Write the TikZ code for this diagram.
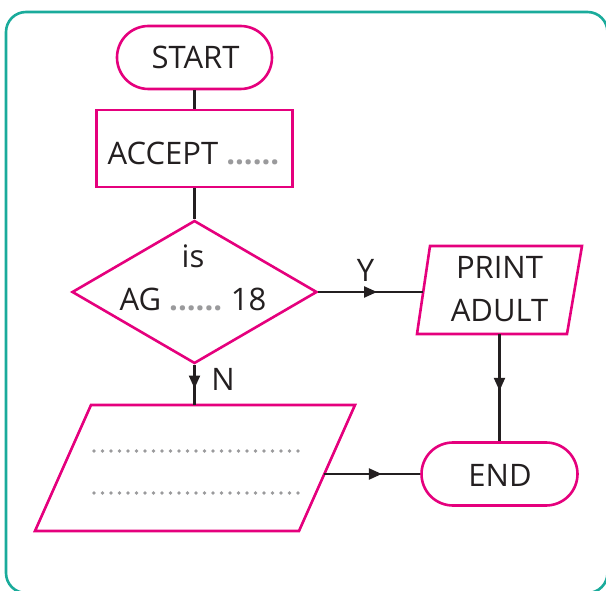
\documentclass[tikz,border=0pt]{standalone}
\usepackage{fontspec}
\setmainfont{Open Sans}
\usetikzlibrary{shapes.geometric,shapes.misc,arrows.meta,decorations.markings}
\definecolor{pinkc}{HTML}{E5007D}
\definecolor{tealc}{HTML}{1AAB9B}
\definecolor{textc}{HTML}{231F20}
\definecolor{dotc}{HTML}{9A9A9C}
\newcommand{\gdots}{{\color{dotc}\bfseries ......}}
\tikzset{
  shapebox/.style={draw=pinkc, line width=2.6pt, fill=white, inner sep=0pt},
  shapeline/.style={draw=pinkc, line width=2.6pt, fill=white, line join=miter},
  lbl/.style={anchor=base, inner sep=0pt, text=textc, font=\fontsize{31}{41}\selectfont},
  conn/.style={draw=textc, line width=2.2pt},
  midarrow/.style={conn, postaction={decorate}, decoration={markings, mark=at position #1 with {\arrow[textc]{Triangle[length=13pt,width=11pt]}}}},
  dotfill/.style={fill=dotc}
}
\begin{document}
\begin{tikzpicture}[x=1pt,y=-1pt]
\useasboundingbox (0,0) rectangle (606,591);
\draw[tealc, line width=2.6pt, rounded corners=20pt] (6,12) rectangle (607.5,593);

% shapes
\node[shapebox, rounded rectangle, minimum width=155pt, minimum height=63pt] (start) at (194.5,57.5) {};
\node[shapebox, rectangle, minimum width=196pt, minimum height=77pt] (accept) at (194.5,148.5) {};
\node[shapebox, diamond, minimum width=245pt, minimum height=143pt] (dec) at (194.5,292) {};
\node[shapebox, rounded rectangle, minimum width=156pt, minimum height=63pt] (end) at (499.5,474) {};

% parallelograms
\coordinate (ptl) at (430,246);
\coordinate (ptr) at (582,246);
\coordinate (pbr) at (567,334);
\coordinate (pbl) at (417,334);
\draw[shapeline] (ptl) -- (ptr) -- (pbr) -- (pbl) -- cycle;
\coordinate (itl) at (91,405);
\coordinate (itr) at (355,405);
\coordinate (ibr) at (299,531);
\coordinate (ibl) at (35,531);
\draw[shapeline] (itl) -- (itr) -- (ibr) -- (ibl) -- cycle;
\coordinate (printin) at (423.2,292);
\coordinate (printout) at (499.5,334);
\coordinate (ioin) at (194.5,405);
\coordinate (ioout) at (324.3,474);

% texts
\node[lbl] (tstart) at (195.5,69) {START};
\node[lbl] (taccept) at (193.5,165) {ACCEPT \gdots};
\node[lbl] (tis) at (193,268) {is};
\node[lbl] (tag) at (193,310) {AG \gdots\hspace{-2pt} 18};
\node[lbl] (tprint) at (499.5,279) {PRINT};
\node[lbl] (tadult) at (499.5,322) {ADULT};
\node[lbl] (tend) at (500,486) {END};
\node[lbl] (ty) at (365.5,282) {Y};
\node[lbl] (tn) at (223,390) {N};

% dotted placeholder lines
\foreach \i in {0,...,24} {
  \fill[dotfill] (94+8.5*\i,451) circle (1.9pt);
  \fill[dotfill] (94+8.5*\i,493) circle (1.9pt);
}

% connectors
\draw[conn] (start.south) -- (accept.north);
\draw[conn] (accept.south) -- (dec.north);
\draw[midarrow=0.56] (dec.east) -- (printin);
\draw[midarrow=0.59] (dec.south) -- (ioin);
\draw[midarrow=0.53] (printout) -- (end.north);
\draw[midarrow=0.6] (ioout) -- (end.west);
\end{tikzpicture}
\end{document}
